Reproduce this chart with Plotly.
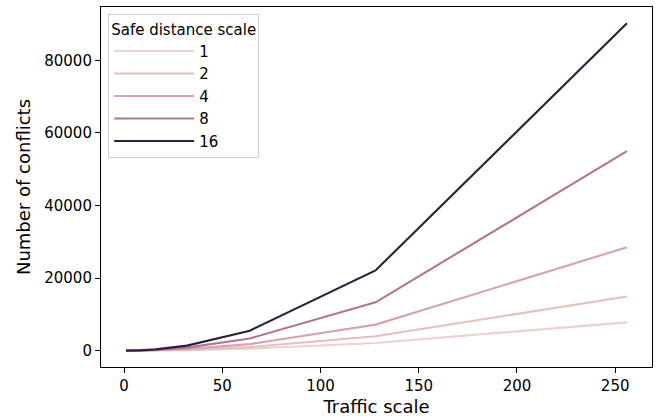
import plotly.graph_objects as go

traffic_scale = [1, 2, 4, 8, 16, 32, 64, 128, 256]
safe_distance_scales = [1, 2, 4, 8, 16]
conflicts = {
    1: [0, 1, 2, 8, 32, 130, 520, 2120, 7800],
    2: [0, 1, 4, 15, 60, 240, 980, 3950, 14900],
    4: [0, 2, 7, 28, 110, 450, 1800, 7170, 28500],
    8: [0, 3, 13, 52, 210, 830, 3350, 13300, 55000],
    16: [0, 5, 20, 85, 340, 1380, 5500, 22100, 90200],
}
colors = {1: "#ebd2ce", 2: "#e5bfbd", 4: "#d8a3ab", 8: "#b27495", 16: "#2d1e3e"}

fig = go.Figure()
for s in safe_distance_scales:
    fig.add_trace(go.Scatter(
        x=traffic_scale, y=conflicts[s], mode="lines", name=str(s),
        line=dict(color=colors[s], width=2.1),
    ))

font = "DejaVu Sans, sans-serif"
fig.update_layout(
    width=656, height=419,
    margin=dict(l=101, r=4, t=7, b=52),
    plot_bgcolor="white", paper_bgcolor="white",
    font=dict(family=font, size=15, color="black"),
    showlegend=True,
    legend=dict(
        title=dict(text="Safe distance scale", font=dict(size=15), side="top center"),
        x=0.013, y=0.98, xanchor="left", yanchor="top",
        bgcolor="rgba(255,255,255,0.8)", bordercolor="#d0d0d0", borderwidth=1,
        font=dict(size=15), itemwidth=80, tracegroupgap=0,
    ),
    xaxis=dict(
        range=[-11.75, 268.75], tickvals=[0, 50, 100, 150, 200, 250],
        showline=True, mirror=True, linecolor="black", linewidth=1.1,
        ticks="outside", ticklen=5, tickwidth=1.1, tickcolor="black",
        showgrid=False, zeroline=False,
        title=dict(text="Traffic scale", font=dict(size=18), standoff=6),
    ),
    yaxis=dict(
        range=[-4510, 94710], tickvals=[0, 20000, 40000, 60000, 80000],
        showline=True, mirror=True, linecolor="black", linewidth=1.1,
        ticks="outside", ticklen=5, tickwidth=1.1, tickcolor="black",
        showgrid=False, zeroline=False, tickformat="d",
        title=dict(text="Number of conflicts", font=dict(size=18), standoff=8),
    ),
)
fig.write_html(
    "out.html",
    config={"displayModeBar": False},
    post_script="document.body.style.margin='0';document.body.style.overflow='hidden';",
)
